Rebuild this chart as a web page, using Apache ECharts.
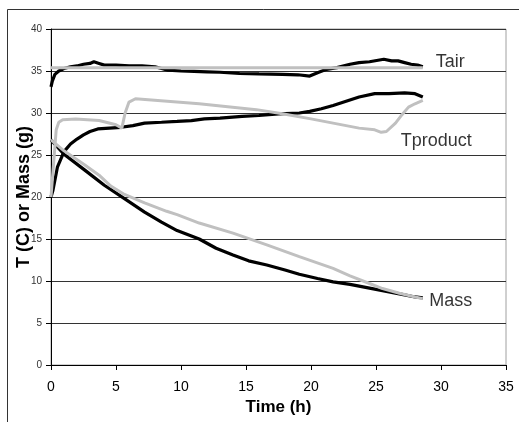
<!DOCTYPE html>
<html>
<head>
<meta charset="utf-8">
<script src="https://cdn.jsdelivr.net/npm/echarts@6/dist/echarts.min.js"></script>
<style>
html,body{margin:0;padding:0;background:#fff;}
#c{width:519px;height:422px;}
</style>
</head>
<body>
<div id="c"></div>
<script>
// Tair measured (black)
const tairMeasT = [0, 0.1, 0.3, 0.6, 1.0, 1.5, 2.0, 2.5, 3.0, 3.3, 3.7, 4.1, 5, 6, 7, 8, 8.5, 9, 10, 11, 12, 13, 14.5, 16, 17.8, 19, 19.9, 20.5, 21.2, 22, 23, 23.7, 24.5, 25.6, 26.2, 26.7, 27.2, 27.7, 28.2, 28.6];
const tairMeasV = [33.1, 33.8, 34.6, 35.0, 35.3, 35.5, 35.6, 35.8, 35.9, 36.1, 35.9, 35.7, 35.7, 35.6, 35.6, 35.5, 35.3, 35.1, 35.0, 34.95, 34.9, 34.85, 34.7, 34.65, 34.6, 34.55, 34.4, 34.8, 35.2, 35.4, 35.8, 36.0, 36.1, 36.4, 36.2, 36.2, 36.0, 35.8, 35.7, 35.5];
// Tair model (grey)
const tairModT = [0, 10, 20, 28.6];
const tairModV = [35.4, 35.4, 35.4, 35.4];
// Tproduct measured (black)
const tprodMeasT = [0, 0.15, 0.5, 1.0, 1.5, 2.0, 2.5, 3.0, 3.6, 4.5, 5.4, 6.3, 7.2, 8.5, 9.7, 10.8, 11.8, 13, 14.7, 16, 17.5, 19.1, 19.9, 20.8, 21.7, 22.7, 23.7, 24.9, 26, 27.2, 28, 28.6];
const tprodMeasV = [20.0, 20.8, 23.6, 25.4, 26.3, 26.9, 27.4, 27.8, 28.1, 28.2, 28.3, 28.5, 28.8, 28.9, 29.0, 29.1, 29.3, 29.4, 29.6, 29.7, 29.9, 30.0, 30.2, 30.5, 30.9, 31.4, 31.9, 32.3, 32.3, 32.4, 32.3, 31.9];
// Tproduct model (grey)
const tprodModT = [0, 0.2, 0.4, 0.6, 0.9, 1.9, 3.7, 5.0, 5.45, 5.7, 6.0, 6.5, 11.4, 15.8, 17.8, 20, 23.7, 24.9, 25.4, 25.8, 26.5, 27.0, 27.5, 28.0, 28.6];
const tprodModV = [20.0, 24.0, 28.0, 28.9, 29.2, 29.3, 29.1, 28.6, 28.2, 30.0, 31.3, 31.7, 31.1, 30.4, 29.9, 29.3, 28.2, 28.0, 27.7, 27.8, 28.8, 29.8, 30.7, 31.1, 31.5];
// Mass measured (black)
const massMeasT = [0, 1.0, 2.6, 4.1, 5.65, 7.2, 8.5, 9.7, 11.4, 12.7, 14.0, 15.2, 16.6, 18, 19.1, 20.5, 21.7, 23, 24, 25, 26, 27, 28, 28.6];
const massMeasV = [26.8, 25.1, 23.2, 21.4, 19.8, 18.2, 17.0, 16.0, 15.0, 13.9, 13.1, 12.4, 11.9, 11.3, 10.8, 10.3, 9.9, 9.6, 9.3, 9.0, 8.7, 8.4, 8.1, 8.0];
// Mass model (grey)
const massModT = [0, 1.0, 2.6, 3.7, 4.6, 5.65, 7.2, 8.9, 9.7, 11.4, 14, 16.6, 19.1, 21.7, 23, 24.5, 25.5, 26.8, 28.0, 28.6];
const massModV = [26.8, 25.5, 23.8, 22.6, 21.3, 20.3, 19.3, 18.3, 17.9, 16.9, 15.7, 14.3, 12.9, 11.5, 10.6, 9.7, 9.1, 8.55, 8.1, 7.9];
// Curve labels
const labelTexts = ['Tair', 'Tproduct', 'Mass'];
const labelTimes = [29.6, 26.9, 29.1];
const labelValues = [36.1, 26.7, 7.6];

const xTicks = [0, 35, 5];
const yTicks = [0, 40, 5];

function pairs(ts, vs) { return ts.map((t, i) => [t, vs[i]]); }
const BLACK = '#000000', GREY = '#c0c0c0';
function line(name, ts, vs, color) {
  return {
    name, type: 'line', data: pairs(ts, vs), showSymbol: false, symbol: 'none',
    smooth: false, lineStyle: { color, width: color === GREY ? 3 : 3.2 }, z: color === GREY ? 3 : 2, animation: false
  };
}

const chart = echarts.init(document.getElementById('c'), null, { renderer: 'canvas' });
chart.setOption({
  animation: false,
  backgroundColor: '#fff',
  textStyle: { fontFamily: 'Liberation Sans, Arial, sans-serif' },
  graphic: [{
    type: 'rect', shape: { x: 7.5, y: 9.5, width: 800, height: 800 },
    style: { fill: 'none', stroke: '#333', lineWidth: 1 }, silent: true
  }],
  grid: { left: 51, right: 13, top: 29, bottom: 57, show: true, borderColor: '#a0a0a0', borderWidth: 1, backgroundColor: 'transparent' },
  xAxis: {
    type: 'value', min: xTicks[0], max: xTicks[1], interval: xTicks[2],
    name: 'Time (h)', nameLocation: 'middle', nameGap: 34, nameMoveOverlap: false,
    nameTextStyle: { fontSize: 17, fontWeight: 'bold', color: '#000', fontFamily: 'Liberation Sans' },
    axisLine: { show: true, onZero: false, lineStyle: { color: '#000', width: 1 } },
    axisTick: { show: true, length: 5, inside: false, lineStyle: { color: '#000' } },
    axisLabel: { fontSize: 14, color: '#000', margin: 15, fontFamily: 'Liberation Sans' },
    splitLine: { show: false }
  },
  yAxis: {
    type: 'value', min: yTicks[0], max: yTicks[1], interval: yTicks[2],
    name: 'T (C) or Mass (g)', nameLocation: 'middle', nameGap: 18, nameMoveOverlap: false,
    nameTextStyle: { fontSize: 18, fontWeight: 'bold', color: '#000', fontFamily: 'Liberation Sans' },
    axisLine: { show: true, onZero: false, lineStyle: { color: '#000', width: 1 } },
    axisTick: { show: true, length: 5, inside: false, lineStyle: { color: '#000' } },
    axisLabel: { fontSize: 10, color: '#333', margin: 9, fontFamily: 'Liberation Sans' },
    splitLine: { show: true, lineStyle: { color: '#333', width: 1 } }
  },
  series: [
    line('Tair measured', tairMeasT, tairMeasV, BLACK),
    line('Tproduct measured', tprodMeasT, tprodMeasV, BLACK),
    line('Mass measured', massMeasT, massMeasV, BLACK),
    line('Tair model', tairModT, tairModV, GREY),
    line('Tproduct model', tprodModT, tprodModV, GREY),
    line('Mass model', massModT, massModV, GREY),
    {
      name: 'labels', type: 'scatter', symbolSize: 0, silent: true, z: 5,
      data: labelTexts.map((n, i) => ({ name: n, value: [labelTimes[i], labelValues[i]] })),
      label: { show: true, position: 'right', distance: 0, formatter: p => p.name, fontSize: 18, color: '#000', fontFamily: 'Liberation Sans' }
    }
  ]
});
</script>
</body>
</html>
